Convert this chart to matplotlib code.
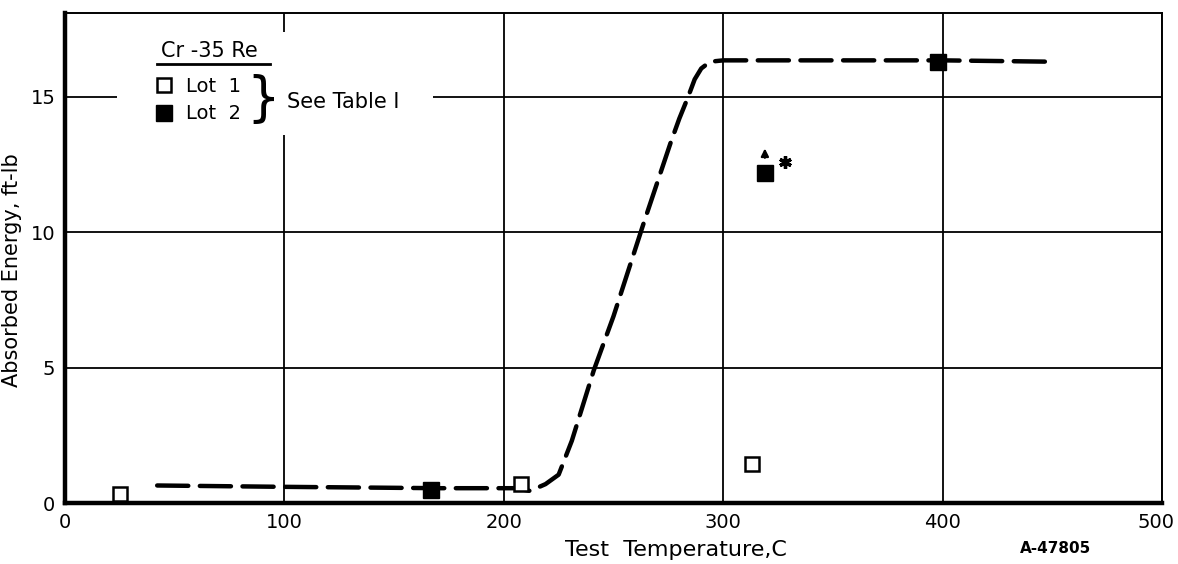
import numpy as np
import matplotlib.pyplot as plt
import matplotlib.transforms as mtransforms
from matplotlib.lines import Line2D
from matplotlib.patches import Rectangle

# Cr-35Re impact data
lot1_temp = [25, 208, 313]
lot1_energy = [0.35, 0.7, 1.45]
lot2_temp = [167, 319, 398]
lot2_energy = [0.5, 12.2, 16.3]

# hand-drawn transition curve
curve_temp = [42, 100, 170, 205, 212, 219, 225, 231, 241, 250, 264, 276, 280, 284, 287, 290, 294, 300, 350, 400, 450]
curve_energy = [0.65, 0.6, 0.55, 0.55, 0.45, 0.7, 1.05, 2.3, 4.9, 6.9, 10.4, 13.3, 14.2, 15.0, 15.65, 16.05, 16.3, 16.35, 16.35, 16.35, 16.3]

# specimen that did not break (arrow + asterisk)
nobreak_temp = 319
nobreak_energy = 12.2
star_temp = 328
star_energy = 12.6

xticks = [0, 100, 200, 300, 400, 500]
yticks = [0, 5, 10, 15]

plt.rcParams['font.family'] = ['DejaVu Sans']

fig = plt.figure(figsize=(11.78, 5.64), dpi=100)
ax = fig.add_axes([0.0552, 0.108, 0.9312, 0.869])

ax.set_xlim(0, 500)
ax.set_ylim(0, 18.1)
ax.set_xticks(xticks)
ax.set_yticks(yticks)
ax.tick_params(length=0, labelsize=14, pad=7)
ax.grid(True, color='black', lw=1.3, zorder=1)
ax.set_axisbelow(True)

# pull the last x label inside the figure
lab = ax.get_xticklabels()[-1]
lab.set_transform(lab.get_transform() + mtransforms.ScaledTranslation(-6 / 100, 0, fig.dpi_scale_trans))

for s in ['left', 'bottom']:
    ax.spines[s].set_linewidth(3.2)
for s in ['top', 'right']:
    ax.spines[s].set_linewidth(1.4)

ax.plot(curve_temp, curve_energy, color='black', lw=3.2, dashes=(7, 2.6),
        dash_capstyle='round', zorder=3)

lot1, = ax.plot(lot1_temp, lot1_energy, ls='none', marker='s', ms=10.5, mfc='white',
                mec='black', mew=1.8, zorder=4)
lot2, = ax.plot(lot2_temp, lot2_energy, ls='none', marker='s', ms=11.5, mfc='black',
                mec='black', mew=1.0, zorder=4)

ax.annotate('', xy=(nobreak_temp, nobreak_energy + 1.0), xytext=(nobreak_temp, nobreak_energy + 0.45),
            arrowprops=dict(arrowstyle='-|>', lw=1.6, color='black', mutation_scale=11), zorder=4)
ax.plot([star_temp], [star_energy], ls='none', marker=(6, 2, 0), ms=9, mew=2.4, color='black', zorder=4)

# legend block (white patch hides the grid behind it)
ax.add_patch(Rectangle((0.047, 0.751), 0.288, 0.21, transform=ax.transAxes,
                       facecolor='white', edgecolor='none', zorder=2))
leg = ax.legend([lot1, lot2], ['Lot  1', 'Lot  2'], loc='upper left',
                bbox_to_anchor=(0.083, 0.87), frameon=False, fontsize=14,
                handletextpad=0.75, labelspacing=0.45,
                handlelength=0.8, borderpad=0, borderaxespad=0)
leg.set_zorder(5)
ax.text(0.132, 0.922, 'Cr -35 Re', transform=ax.transAxes, fontsize=15,
        ha='center', va='center', zorder=5)
ax.add_line(Line2D([0.084, 0.187], [0.896, 0.896], transform=ax.transAxes,
                   color='black', lw=2, zorder=5))
ax.text(0.181, 0.822, '}', transform=ax.transAxes, fontsize=38, ha='center',
        va='center', zorder=5)
ax.text(0.202, 0.818, 'See Table I', transform=ax.transAxes, fontsize=15,
        ha='left', va='center', zorder=5)

ax.set_xlabel('Test  Temperature,C', fontsize=16, labelpad=6, x=0.557)
ax.set_ylabel('Absorbed Energy, ft-lb', fontsize=15, labelpad=6, y=0.475)

fig.text(0.896, 0.027, 'A-47805', fontsize=11, fontweight='bold', ha='center', va='center')

fig.savefig('out.png', dpi=100)
